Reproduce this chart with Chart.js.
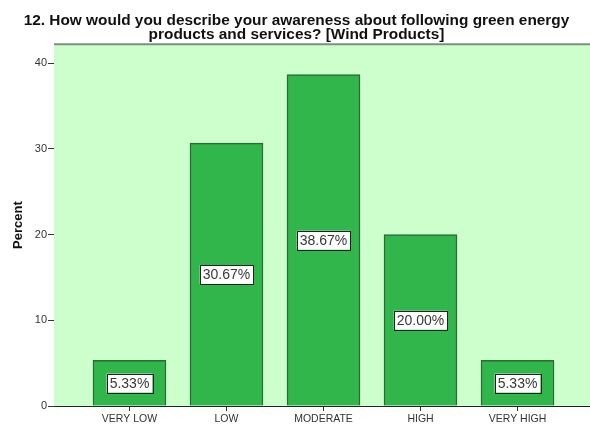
<!DOCTYPE html>
<html>
<head>
<meta charset="utf-8">
<script src="https://cdn.jsdelivr.net/npm/chart.js@4.4.1/dist/chart.umd.min.js"></script>
<style>
  html, body { margin: 0; padding: 0; background: #fff; overflow: hidden; }
  #wrap { width: 590px; height: 431px; overflow: hidden; }
</style>
</head>
<body>
<div id="wrap"><canvas id="chart" width="600" height="431"></canvas></div>
<script>
const titleLines = ['12. How would you describe your awareness about following green energy', 'products and services? [Wind Products]'];
const categories = ['VERY LOW', 'LOW', 'MODERATE', 'HIGH', 'VERY HIGH'];
const percents = [5.33, 30.67, 38.67, 20.00, 5.33];
const yTicks = [0, 10, 20, 30, 40];

// plot background, frame and boxed value labels (SPSS look)
const spssLook = {
  id: 'spssLook',
  beforeDatasetsDraw(chart) {
    const a = chart.chartArea;
    const ctx = chart.ctx;
    ctx.save();
    ctx.fillStyle = '#ccffcc';
    ctx.fillRect(a.left, a.top, a.right - a.left, a.bottom - a.top);
    ctx.restore();
  },
  afterDatasetsDraw(chart) {
    const a = chart.chartArea;
    const ctx = chart.ctx;
    ctx.save();
    ctx.strokeStyle = '#7f8f7f';
    ctx.lineWidth = 2;
    ctx.beginPath();
    ctx.moveTo(a.left, a.top);
    ctx.lineTo(a.right, a.top);
    ctx.stroke();

    const meta = chart.getDatasetMeta(0);
    const y = chart.scales.y;
    ctx.font = '14px "Liberation Sans", Arial, sans-serif';
    ctx.textAlign = 'center';
    ctx.textBaseline = 'middle';
    meta.data.forEach((bar, i) => {
      const text = percents[i].toFixed(2) + '%';
      const cy = y.getPixelForValue(percents[i] / 2);
      const w = ctx.measureText(text).width + 6;
      const h = 19;
      ctx.fillStyle = '#ffffff';
      ctx.fillRect(bar.x - w / 2, cy - h / 2, w, h);
      ctx.strokeStyle = '#222';
      ctx.lineWidth = 1;
      ctx.strokeRect(Math.round(bar.x - w / 2) + 0.5, Math.round(cy - h / 2) + 0.5, Math.round(w), h);
      ctx.fillStyle = '#383838';
      ctx.fillText(text, bar.x, cy + 1);
    });
    ctx.restore();
  }
};

new Chart(document.getElementById('chart'), {
  type: 'bar',
  data: {
    datasets: [{
      data: percents.map((v, i) => ({ x: i, y: v })),
      backgroundColor: '#30b64a',
      borderColor: '#2a6a35',
      borderWidth: 1.5,
      barThickness: 73
    }]
  },
  options: {
    responsive: false,
    animation: false,
    layout: { padding: { left: 0, right: 7, top: 0, bottom: 0 } },
    plugins: {
      legend: { display: false },
      tooltip: { enabled: false },
      title: {
        display: true,
        text: titleLines,
        color: '#111',
        font: { family: '"Liberation Sans", Arial, sans-serif', size: 15.4, weight: 'bold', lineHeight: 0.95 },
        padding: { top: 13, bottom: 2 }
      }
    },
    scales: {
      x: {
        type: 'linear',
        offset: false,
        min: -0.778,
        max: 4.778,
        afterBuildTicks(axis) { axis.ticks = categories.map((c, i) => ({ value: i })); },
        afterFit(axis) { axis.height = 25; },
        ticks: {
          autoSkip: false,
          maxRotation: 0,
          padding: 2,
          color: '#333',
          font: { family: '"Liberation Sans", Arial, sans-serif', size: 10.5 },
          callback: (v) => categories[v] || ''
        },
        grid: { offset: false, drawOnChartArea: false, tickLength: 5, color: '#333', tickColor: '#333' },
        border: { color: '#222', width: 1 }
      },
      y: {
        min: 0,
        max: 42.2,
        afterBuildTicks(axis) { axis.ticks = yTicks.map(v => ({ value: v })); },
        afterFit(axis) { axis.width = 54; },
        ticks: {
          padding: 1,
          color: '#333',
          font: { family: '"Liberation Sans", Arial, sans-serif', size: 11 }
        },
        grid: { drawOnChartArea: false, tickLength: 6, color: '#333', tickColor: '#333' },
        border: { color: '#333', width: 1 },
        title: {
          display: true,
          text: 'Percent',
          color: '#111',
          padding: { top: 11, bottom: 0 },
          font: { family: '"Liberation Sans", Arial, sans-serif', size: 13, weight: 'bold' }
        }
      }
    }
  },
  plugins: [spssLook]
});
</script>
</body>
</html>
